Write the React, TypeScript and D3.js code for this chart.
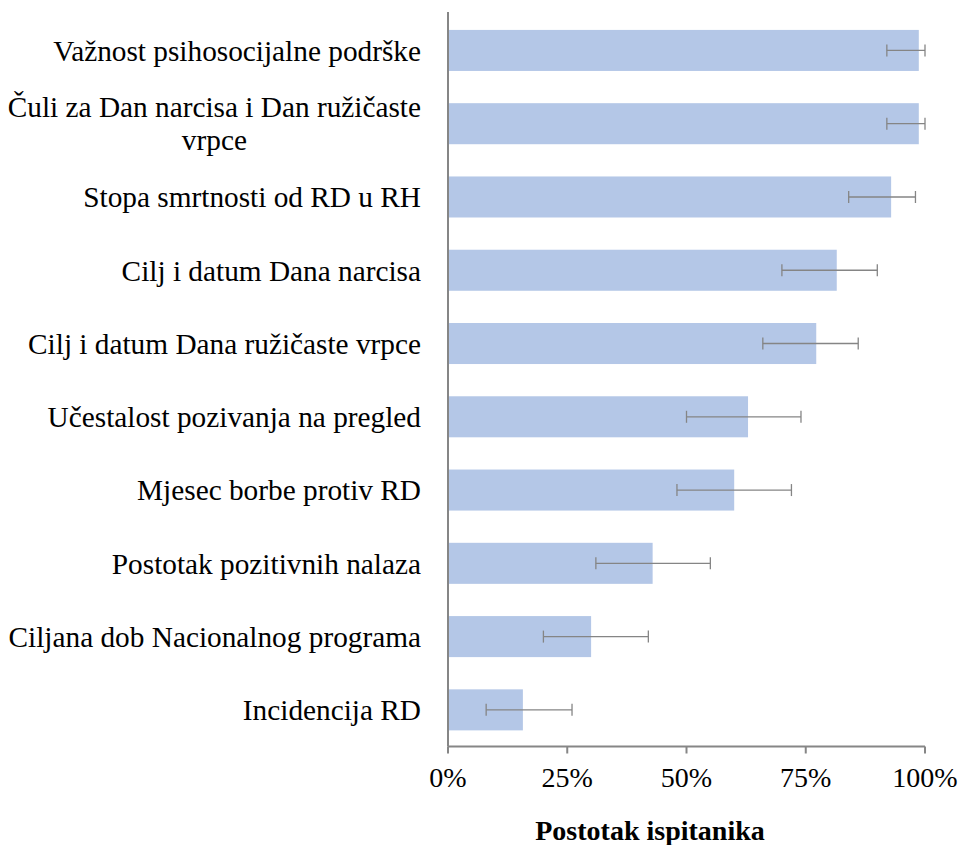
import React from "react";
import * as d3 from "d3";

const categories = [
  "Važnost psihosocijalne podrške",
  "Čuli za Dan narcisa i Dan ružičaste vrpce",
  "Stopa smrtnosti od RD u RH",
  "Cilj i datum Dana narcisa",
  "Cilj i datum Dana ružičaste vrpce",
  "Učestalost pozivanja na pregled",
  "Mjesec borbe protiv RD",
  "Postotak pozitivnih nalaza",
  "Ciljana dob Nacionalnog programa",
  "Incidencija RD",
];
const values = [98.7, 98.7, 92.9, 81.5, 77.2, 62.9, 60.0, 42.9, 30.0, 15.7];
const errLow = [92, 92, 84, 70, 66, 50, 48, 31, 20, 8];
const errHigh = [100, 100, 98, 90, 86, 74, 72, 55, 42, 26];
const ticks = [0, 25, 50, 75, 100];
const axisTitle = "Postotak ispitanika";

const W = 960;
const H = 845;
const FONT = '"Liberation Serif", "Times New Roman", Times, "DejaVu Serif", serif';
const FS_LABEL = 29.3;
const FS = 28;

function measure(text: string): number {
  const c = document.createElement("canvas");
  const ctx = c.getContext("2d");
  if (!ctx) return text.length * 12;
  ctx.font = `${FS_LABEL}px ${FONT}`;
  return ctx.measureText(text).width;
}

function wrap(label: string, maxChars = 36): string[] {
  if (label.length <= maxChars) return [label];
  const idx = label.lastIndexOf(" ", maxChars);
  return [label.slice(0, idx), label.slice(idx + 1)];
}

export default function App() {
  const left = 448;
  const right = 925;
  const top = 13.8;
  const bottom = 746.5;

  const x = d3.scaleLinear().domain([0, 100]).range([left, right]);
  const y = d3
    .scaleBand<string>()
    .domain(categories)
    .range([top, bottom])
    .paddingInner(0.44)
    .paddingOuter(0.22);

  const labelRight = 421;
  const lineH = 33;
  const textStyle = { fontFamily: FONT };

  return (
    <svg
      width={W}
      height={H}
      style={{ position: "absolute", left: 0, top: 0, background: "#fff", fontFamily: FONT }}
    >
      {categories.map((c, i) => {
        const y0 = y(c)!;
        const bw = y.bandwidth();
        const cy = y0 + bw / 2;
        const lines = wrap(c);
        const widths = lines.map(measure);
        const maxW = Math.max(...widths);
        const centerX = labelRight - maxW / 2;
        return (
          <g key={c}>
            <rect
              x={x(0)}
              y={y0}
              width={x(values[i]) - x(0)}
              height={bw}
              fill="#b4c7e7"
            />
            <line
              x1={x(errLow[i])}
              x2={x(errHigh[i])}
              y1={cy}
              y2={cy}
              stroke="#858585"
              strokeWidth={1.3}
            />
            {[errLow[i], errHigh[i]].map((v, k) => (
              <line
                key={k}
                x1={x(v)}
                x2={x(v)}
                y1={cy - 6}
                y2={cy + 6}
                stroke="#858585"
                strokeWidth={1.3}
              />
            ))}
            {lines.map((ln, k) => (
              <text
                key={k}
                x={lines.length > 1 ? centerX : labelRight}
                y={cy + (k - (lines.length - 1) / 2) * lineH}
                dy="0.35em"
                textAnchor={lines.length > 1 ? "middle" : "end"}
                fontSize={FS_LABEL}
                fill="#000"
                style={textStyle}
              >
                {ln}
              </text>
            ))}
          </g>
        );
      })}
      <line x1={x(0)} x2={x(0)} y1={12} y2={bottom} stroke="#868686" strokeWidth={2} />
      <line x1={x(0)} x2={x(100)} y1={bottom} y2={bottom} stroke="#868686" strokeWidth={2} />
      {ticks.map((t) => (
        <g key={t}>
          <line
            x1={x(t)}
            x2={x(t)}
            y1={bottom}
            y2={bottom + 7}
            stroke="#868686"
            strokeWidth={2}
          />
          <text
            x={x(t)}
            y={bottom + 31}
            dy="0.35em"
            textAnchor="middle"
            fontSize={FS}
            fill="#000"
            style={textStyle}
          >
            {`${t}%`}
          </text>
        </g>
      ))}
      <text
        x={650}
        y={830}
        dy="0.35em"
        textAnchor="middle"
        fontSize={FS}
        fontWeight="bold"
        fill="#000"
        style={textStyle}
      >
        {axisTitle}
      </text>
    </svg>
  );
}
